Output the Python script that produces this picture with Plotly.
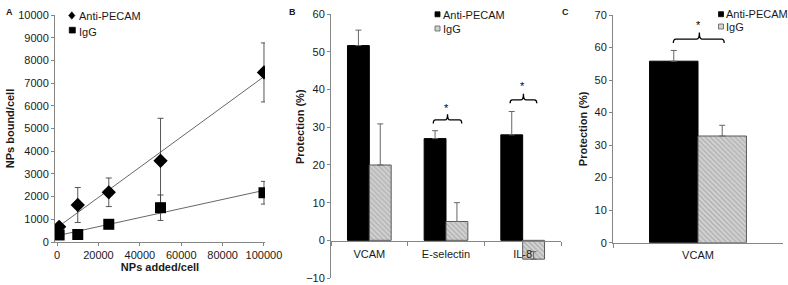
import numpy as np
import plotly.graph_objects as go

# ---------------- data ----------------
# Panel A: NPs bound per cell vs NPs added per cell
np_added = [1000, 10000, 25000, 50000, 100000]
anti_bound = [670, 1630, 2190, 3580, 7470]
anti_bound_err = [150, 770, 630, 1870, 1300]
igg_bound = [310, 330, 780, 1510, 2170]
igg_bound_err = [100, 120, 150, 560, 500]

# Panel B: protection (%)
b_cats = ["VCAM", "E-selectin", "IL-8"]
b_anti = [51.7, 27.0, 28.0]
b_anti_err = [4.1, 2.1, 6.2]
b_igg = [20.0, 5.0, -5.0]
b_igg_err = [10.9, 5.0, 2.0]

# Panel C: protection (%)
c_cats = ["VCAM"]
c_anti = [55.8]
c_anti_err = [3.3]
c_igg = [32.8]
c_igg_err = [3.3]

series_names = ["Anti-PECAM", "IgG"]

# ---------------- style ----------------
W, H = 788, 285
FONT = "Liberation Sans, Arial, Helvetica, sans-serif"
AX = "#868686"
TXT = "#1a1a1a"
ERR = "#666666"
GRAY_BG = "#d2d2d2"
GRAY_FG = "#8a8a8a"
GRAY_LINE = "#5a5a5a"


def px_x(p):
    return p / W


def px_y(p):
    return 1 - p / H


fig = go.Figure()

# ---- Panel A ----
for name, vals, errs, sym in [
    (series_names[0], anti_bound, anti_bound_err, "diamond"),
    (series_names[1], igg_bound, igg_bound_err, "square"),
]:
    slope, icpt = np.polyfit(np_added, vals, 1)
    xs = [min(np_added), max(np_added)]
    fig.add_trace(go.Scatter(
        x=xs, y=[slope * v + icpt for v in xs], mode="lines",
        line=dict(color="#404040", width=0.8), showlegend=False,
        hoverinfo="skip", xaxis="x", yaxis="y"))
    fig.add_trace(go.Scatter(
        x=np_added, y=vals, name=name, mode="markers",
        marker=dict(symbol=sym, size=11, color="black"),
        error_y=dict(type="data", array=errs, visible=True,
                     color="#444444", thickness=0.9, width=3),
        showlegend=False, xaxis="x", yaxis="y"))

# ---- Panels B and C ----
gray_marker = dict(
    color=GRAY_BG,
    pattern=dict(shape="\\", fgcolor=GRAY_FG, bgcolor=GRAY_BG,
                 size=3.5, solidity=0.35),
    line=dict(color=GRAY_LINE, width=1))
black_marker = dict(color="black", line=dict(color="black", width=1))


def bar(cats, vals, errs, name, marker, xa, ya):
    return go.Bar(
        x=cats, y=vals, name=name, marker=marker, showlegend=False,
        error_y=dict(type="data", symmetric=False, array=errs,
                     arrayminus=[0] * len(errs), color=ERR,
                     thickness=1, width=3),
        xaxis=xa, yaxis=ya)


fig.add_trace(bar(b_cats, b_anti, b_anti_err, series_names[0], black_marker, "x2", "y2"))
fig.add_trace(bar(b_cats, b_igg, b_igg_err, series_names[1], gray_marker, "x2", "y2"))
fig.add_trace(bar(c_cats, c_anti, c_anti_err, series_names[0], black_marker, "x3", "y3"))
fig.add_trace(bar(c_cats, c_igg, c_igg_err, series_names[1], gray_marker, "x3", "y3"))

# ---------------- axes ----------------
tickfont = dict(family=FONT, size=11, color=TXT)
titlefont = dict(family=FONT, size=11, color=TXT)
common = dict(showline=True, linecolor=AX, linewidth=1, ticks="outside",
              tickcolor=AX, ticklen=3, tickwidth=1, showgrid=False,
              zeroline=False, tickfont=tickfont, automargin=False)

fig.update_layout(
    xaxis=dict(domain=[px_x(55), px_x(265)], range=[-1000, 100500],
               tickvals=[0, 20000, 40000, 60000, 80000, 100000],
               tickformat="d", anchor="y",
               title=dict(text="<b>NPs added/cell</b>", font=titlefont, standoff=3),
               **common),
    yaxis=dict(domain=[px_y(242), px_y(15)], range=[0, 10000], dtick=1000,
               tickformat="d", anchor="x",
               title=dict(text="<b>NPs bound/cell</b>", font=titlefont, standoff=1),
               **common),
    xaxis2=dict(domain=[px_x(331), px_x(561)], type="category",
                range=[-0.5, 2.5], anchor="free", position=px_y(240.8),
                tickson="boundaries", ticklabelstandoff=3,
                **{**common, "ticklen": 4}),
    yaxis2=dict(domain=[px_y(278), px_y(14.3)], range=[-10, 60], dtick=10,
                anchor="x2", **common),
    xaxis3=dict(domain=[px_x(613), px_x(783)], type="category",
                range=[-0.5, 0.5], anchor="y3", tickson="boundaries",
                ticklabelstandoff=2, **{**common, "ticklen": 4}),
    yaxis3=dict(domain=[px_y(242.7), px_y(15)], range=[0, 70], dtick=10,
                anchor="x3",
                title=dict(text="<b>Protection (%)</b>", font=titlefont, standoff=4),
                **common),
)


# ---------------- significance braces ----------------
def brace(x0, x1, xc, y, down, up, r):
    return (f"M{x0},{y - down} Q{x0},{y} {x0 + r},{y} "
            f"L{xc - r},{y} Q{xc},{y} {xc},{y + up} "
            f"Q{xc},{y} {xc + r},{y} L{x1 - r},{y} "
            f"Q{x1},{y} {x1},{y - down}")


shapes = [
    dict(type="path", xref="x2", yref="y2",
         path=brace(0.834, 1.205, 1.02, 32.0, 1.0, 1.5, 0.03),
         line=dict(color="black", width=1.3)),
    dict(type="path", xref="x2", yref="y2",
         path=brace(1.836, 2.184, 2.01, 37.3, 0.9, 1.6, 0.03),
         line=dict(color="black", width=1.3)),
    dict(type="path", xref="x3", yref="y3",
         path=brace(-0.145, 0.154, 0.008, 62.6, 1.2, 2.0, 0.015),
         line=dict(color="black", width=1.3)),
]


# ---------------- legends (symbol + text) ----------------
def diamond_shape(cx, cy, hw, hh):
    return dict(type="path", xref="paper", yref="paper",
                path=(f"M{px_x(cx - hw)},{px_y(cy)} L{px_x(cx)},{px_y(cy - hh)} "
                      f"L{px_x(cx + hw)},{px_y(cy)} L{px_x(cx)},{px_y(cy + hh)} Z"),
                fillcolor="black", line=dict(color="black", width=0.5))


def square_shape(x0, y0, x1, y1, fill, line):
    return dict(type="rect", xref="paper", yref="paper",
                x0=px_x(x0), x1=px_x(x1), y0=px_y(y1), y1=px_y(y0),
                fillcolor=fill, line=dict(color=line, width=0.8))


shapes += [
    diamond_shape(71.8, 15.5, 3.2, 3.8),
    square_shape(69.3, 27.3, 75.3, 33.0, "black", "black"),
    square_shape(435, 11.8, 440, 16.8, "black", "black"),
    square_shape(435, 26.0, 440, 31.0, GRAY_BG, GRAY_LINE),
    square_shape(718.5, 11.7, 723.5, 16.7, "black", "black"),
    square_shape(718.5, 24.0, 723.5, 29.0, GRAY_BG, GRAY_LINE),
]
fig.update_layout(shapes=shapes)

legfont = dict(family=FONT, size=11, color=TXT)
star_font = dict(family=FONT, size=11, color="black")
letter_font = dict(family=FONT, size=9, color=TXT)


def leg_text(x, y, text):
    return dict(x=px_x(x), y=px_y(y), xref="paper", yref="paper", text=text,
                xanchor="left", yanchor="middle", showarrow=False, font=legfont)


annotations = [
    leg_text(76.5, 16.5, series_names[0]),
    leg_text(76.5, 31.5, series_names[1]),
    leg_text(440.5, 15, series_names[0]),
    leg_text(440.5, 29, series_names[1]),
    leg_text(724, 14, series_names[0]),
    leg_text(724, 27.5, series_names[1]),
    # significance stars
    dict(x=1.0, y=35.2, xref="x2", yref="y2", text="*", showarrow=False, font=star_font),
    dict(x=2.0, y=40.9, xref="x2", yref="y2", text="*", showarrow=False, font=star_font),
    dict(x=0.0, y=66.9, xref="x3", yref="y3", text="*", showarrow=False, font=star_font),
    # B y-axis title
    dict(x=px_x(300), y=px_y(127), xref="paper", yref="paper",
         text="<b>Protection (%)</b>", textangle=-90, showarrow=False,
         font=titlefont),
    # panel letters
    dict(x=px_x(3.5), y=px_y(5), xref="paper", yref="paper", text="<b>A</b>",
         showarrow=False, font=letter_font),
    dict(x=px_x(292.5), y=px_y(5.5), xref="paper", yref="paper", text="<b>B</b>",
         showarrow=False, font=letter_font),
    dict(x=px_x(570.5), y=px_y(5), xref="paper", yref="paper", text="<b>C</b>",
         showarrow=False, font=letter_font),
]
fig.update_layout(annotations=annotations)

fig.update_layout(
    width=W, height=H, margin=dict(l=0, r=0, t=0, b=0, autoexpand=False),
    paper_bgcolor="white", plot_bgcolor="white", hovermode=False,
    barmode="group", bargap=0.43, bargroupgap=0, showlegend=False,
    font=dict(family=FONT, size=11, color=TXT),
)

# remove the browser's default page margin so the figure fills the window
fig.write_html(
    "out.html",
    config={"displayModeBar": False, "staticPlot": True},
    post_script="document.body.style.margin='0';document.body.style.padding='0';"
                "document.documentElement.style.overflow='hidden';",
)
